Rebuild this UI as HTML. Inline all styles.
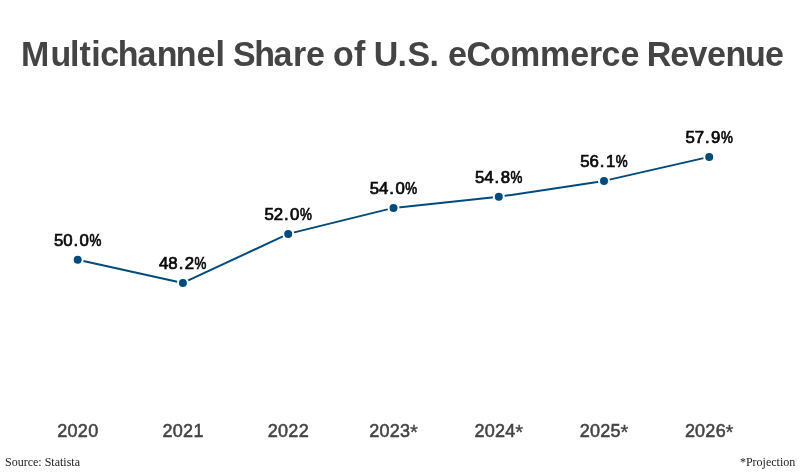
<!DOCTYPE html>
<html>
<head>
<meta charset="utf-8">
<title>Multichannel Share of U.S. eCommerce Revenue</title>
<style>
html,body{margin:0;padding:0;background:#fff;}
body{width:800px;height:475px;overflow:hidden;position:relative;}
svg{position:absolute;left:0;top:0;display:block;}
.title{font-family:"Liberation Sans",sans-serif;font-weight:bold;font-size:34px;fill:#444;}
.dl{font-family:"Liberation Sans",sans-serif;font-size:16.8px;fill:#0a0a0a;stroke:#0a0a0a;stroke-width:0.72px;}
.ax{font-family:"Liberation Sans",sans-serif;font-size:18px;fill:#444;stroke:#444;stroke-width:0.55px;}
.as{font-size:20.4px;stroke-width:0.3px;}
.ft{font-family:"Liberation Serif",serif;font-size:12px;fill:#222;}
</style>
</head>
<body>
<svg width="800" height="475" viewBox="0 0 800 475">
<rect width="800" height="475" fill="#fff"/>
<g class="title" transform="translate(0,65.6) scale(1,1.008)">
<text y="0" x="21.1 50.4 70.0 79.5 91.2 100.2 117.8 137.6 156.7 175.8 196.4 215.4">Multichannel</text>
<text y="0" x="232.9 254.2 273.6 292.9 306.1">Share</text>
<text y="0" x="332.9 353.9">of</text>
<text y="0" x="373.7 397.6 407.5 429.4">U.S.</text>
<text y="0" x="448.1 466.4 489.7 509.9 540.0 570.3 588.9 601.5 620.4">eCommerce</text>
<text y="0" x="646.8 670.2 688.6 707.0 725.4 744.9 765.0">Revenue</text>
</g>
<polyline points="77.7,259.8 182.9,282.95 288.2,233.9 393.5,207.9 498.8,196.8 604,180.9 709.2,156.9" fill="none" stroke="#004a7c" stroke-width="2" stroke-linejoin="round" stroke-linecap="round"/>
<g fill="#004a7c" stroke="#fff" stroke-width="2">
<circle cx="77.7" cy="259.8" r="5"/>
<circle cx="182.9" cy="282.95" r="5"/>
<circle cx="288.2" cy="233.9" r="5"/>
<circle cx="393.5" cy="207.9" r="5"/>
<circle cx="498.8" cy="196.8" r="5"/>
<circle cx="604" cy="180.9" r="5"/>
<circle cx="709.2" cy="156.9" r="5"/>
</g>
<g class="dl">
<text transform="translate(0,245.80) scale(1,1.02)" x="53.92" y="0"><tspan dx="0 -0.1 0.95 1.47">50.0</tspan><tspan x="89.40" textLength="11.9" lengthAdjust="spacingAndGlyphs">%</tspan></text>
<text transform="translate(0,268.95) scale(1,1.02)" x="159.12" y="0"><tspan dx="0 -0.1 0.95 1.47">48.2</tspan><tspan x="194.60" textLength="11.9" lengthAdjust="spacingAndGlyphs">%</tspan></text>
<text transform="translate(0,219.90) scale(1,1.02)" x="264.42" y="0"><tspan dx="0 -0.1 0.95 1.47">52.0</tspan><tspan x="299.90" textLength="11.9" lengthAdjust="spacingAndGlyphs">%</tspan></text>
<text transform="translate(0,193.90) scale(1,1.02)" x="369.72" y="0"><tspan dx="0 -0.1 0.95 1.47">54.0</tspan><tspan x="405.20" textLength="11.9" lengthAdjust="spacingAndGlyphs">%</tspan></text>
<text transform="translate(0,182.80) scale(1,1.02)" x="475.02" y="0"><tspan dx="0 -0.1 0.95 1.47">54.8</tspan><tspan x="510.50" textLength="11.9" lengthAdjust="spacingAndGlyphs">%</tspan></text>
<text transform="translate(0,166.90) scale(1,1.02)" x="580.22" y="0"><tspan dx="0 -0.1 0.95 1.47">56.1</tspan><tspan x="615.70" textLength="11.9" lengthAdjust="spacingAndGlyphs">%</tspan></text>
<text transform="translate(0,142.90) scale(1,1.02)" x="685.42" y="0"><tspan dx="0 -0.1 0.95 1.47">57.9</tspan><tspan x="720.90" textLength="11.9" lengthAdjust="spacingAndGlyphs">%</tspan></text>
</g>
<g class="ax">
<text x="57.25" y="437.2"><tspan dx="0 0.17 0.26 0.44">2020</tspan></text>
<text x="162.50" y="437.2"><tspan dx="0 0.17 0.26 0.44">2021</tspan></text>
<text x="267.75" y="437.2"><tspan dx="0 0.17 0.26 0.44">2022</tspan></text>
<text x="369.20" y="437.2"><tspan dx="0 0.17 0.26 0.44">2023</tspan><tspan class="as" x="409.90" dy="1.9">*</tspan></text>
<text x="474.45" y="437.2"><tspan dx="0 0.17 0.26 0.44">2024</tspan><tspan class="as" x="515.15" dy="1.9">*</tspan></text>
<text x="579.70" y="437.2"><tspan dx="0 0.17 0.26 0.44">2025</tspan><tspan class="as" x="620.40" dy="1.9">*</tspan></text>
<text x="684.90" y="437.2"><tspan dx="0 0.17 0.26 0.44">2026</tspan><tspan class="as" x="725.60" dy="1.9">*</tspan></text>
</g>
<g class="ft">
<text x="5" y="465.7">Source: Statista</text>
<text x="795.25" y="465.7" text-anchor="end">*Projection</text>
</g>
</svg>
</body>
</html>
